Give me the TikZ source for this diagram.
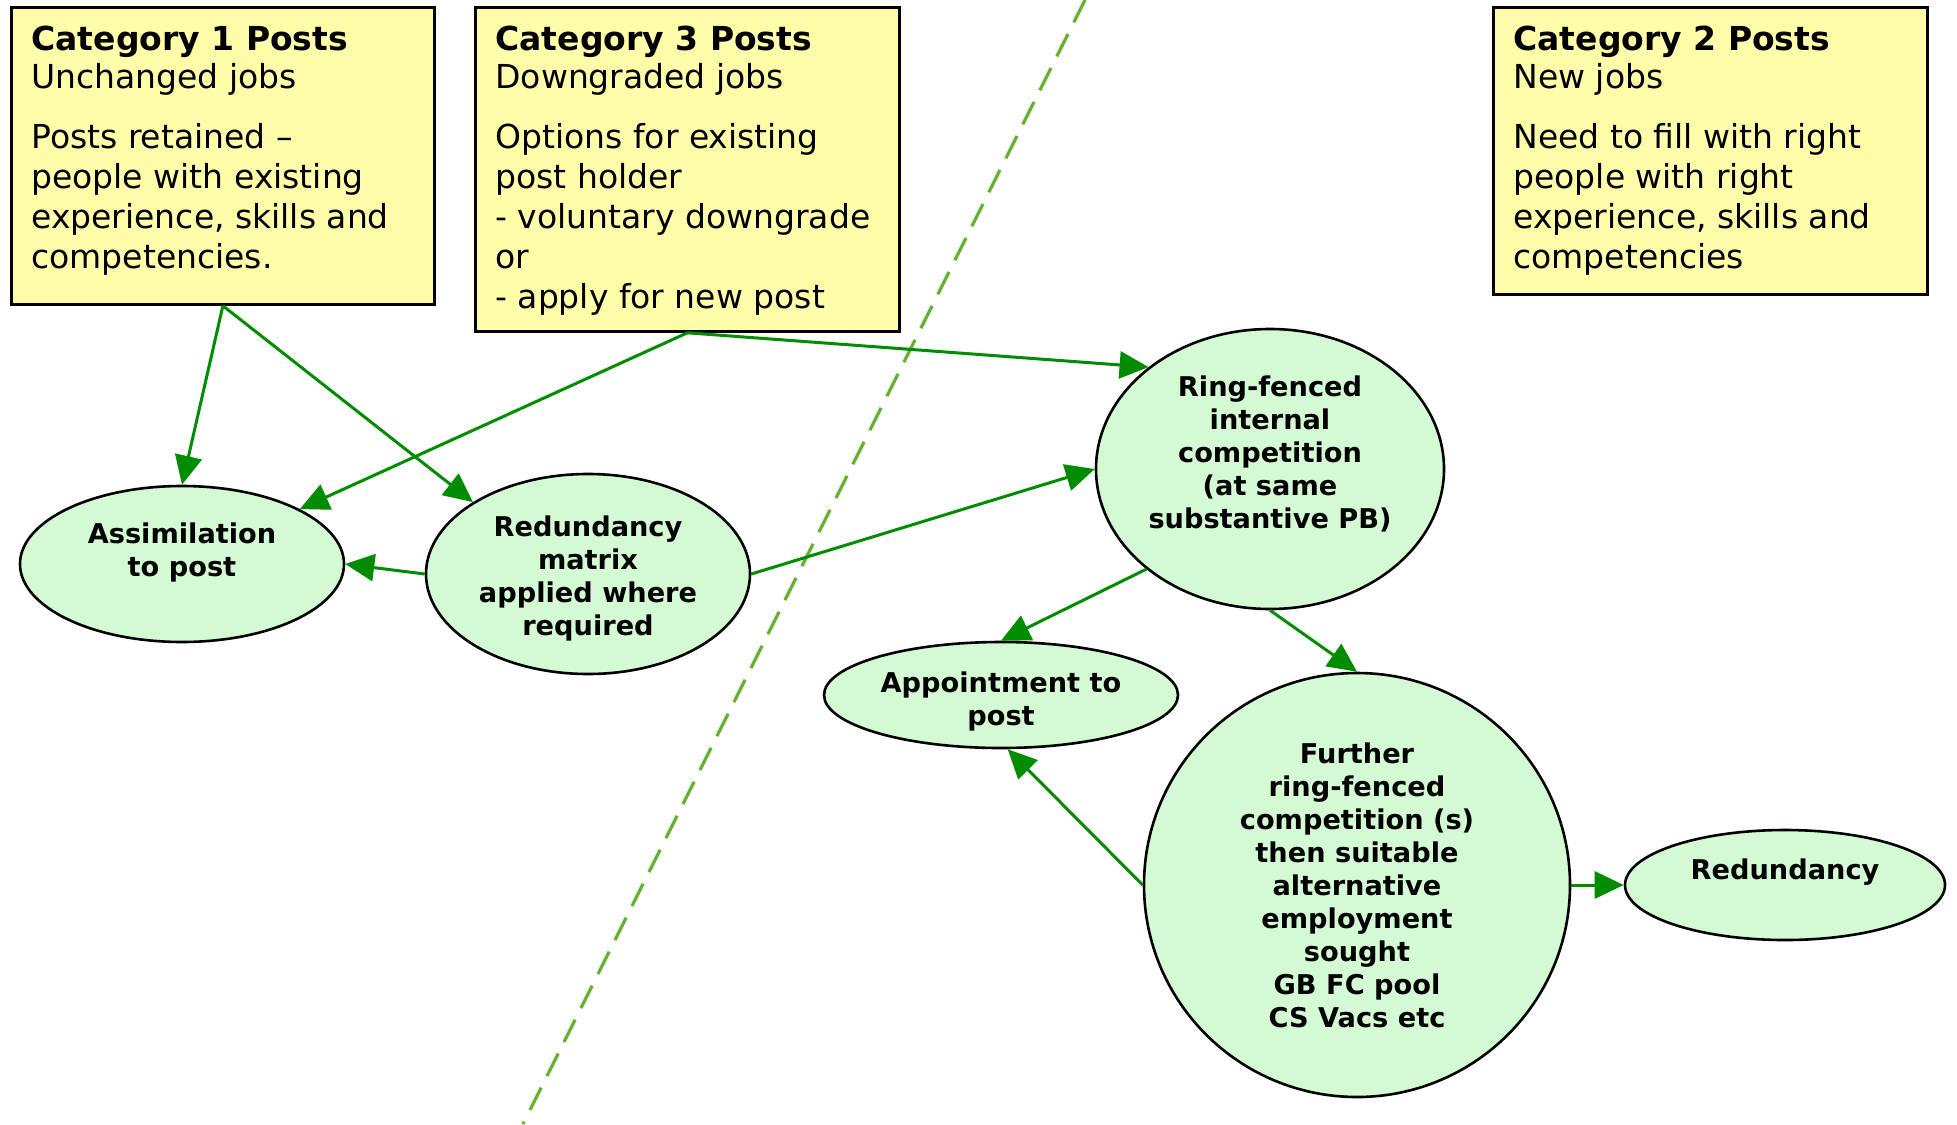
\documentclass[tikz,border=0pt]{standalone}
\usepackage{fontspec}
\setmainfont{DejaVu Sans}
\usetikzlibrary{shapes.geometric,arrows.meta}

\definecolor{postfill}{RGB}{255,252,170}
\definecolor{stagefill}{RGB}{212,250,212}
\definecolor{flow}{RGB}{0,140,0}
\definecolor{divide}{RGB}{102,176,50}

\tikzset{
  post/.style={draw=black, line width=1.4pt, fill=postfill, rectangle,
    inner sep=0pt, anchor=north west},
  posttext/.style={anchor=north west, align=left, inner sep=0pt,
    font=\fontsize{16.5}{20}\selectfont},
  stage/.style={draw=black, line width=1.3pt, fill=stagefill, ellipse,
    inner sep=0pt},
  stagetext/.style={align=center, inner sep=0pt,
    font=\fontsize{13.6}{16.5}\selectfont\bfseries},
  flowarrow/.style={draw=flow, line width=1.5pt,
    -{Triangle[length=14.5pt,width=13.5pt]}},
  divider/.style={draw=divide, line width=1.6pt, dash pattern=on 12.5pt off 6.5pt}
}

\begin{document}
\begin{tikzpicture}[x=0.5pt,y=-0.5pt]
  \useasboundingbox (0,0) rectangle (1957,1124);
  \fill[white] (0,0) rectangle (1957,1124);

  % dividing line between existing and new posts
  \coordinate (dtop) at (1085,0);
  \coordinate (dbot) at (523,1124);
  \draw[divider] (dtop) -- (dbot);

  % category boxes
  \node[post, minimum width=211.5pt, minimum height=148.5pt] (cat1) at (10,6) {};
  \node[posttext] (cat1t) at (31,26) {\textbf{Category 1 Posts}\\[-1.3pt]
    Unchanged jobs\\[10pt]
    Posts retained –\\
    people with existing\\
    experience, skills and\\
    competencies.};

  \node[post, minimum width=212pt, minimum height=162pt] (cat3) at (474,6) {};
  \node[posttext] (cat3t) at (495,26) {\textbf{Category 3 Posts}\\[-1.3pt]
    Downgraded jobs\\[10pt]
    Options for existing\\
    post holder\\
    - voluntary downgrade\\
    or\\
    - apply for new post};

  \node[post, minimum width=217pt, minimum height=143.5pt] (cat2) at (1492,6) {};
  \node[posttext] (cat2t) at (1513,26) {\textbf{Category 2 Posts}\\[-1.3pt]
    New jobs\\[10pt]
    Need to fill with right\\
    people with right\\
    experience, skills and\\
    competencies};

  % process stages
  \node[stage, minimum width=162pt, minimum height=78pt] (assim) at (182,564) {};
  \node[stagetext] (assimt) at (182,552) {Assimilation\\to post};

  \node[stage, minimum width=162pt, minimum height=100pt] (rmat) at (588,574) {};
  \node[stagetext] (rmatt) at (588,578) {Redundancy\\matrix\\applied where\\required};

  \node[stage, minimum width=174pt, minimum height=140pt] (ring) at (1270,469) {};
  \node[stagetext] (ringt) at (1270,454) {Ring-fenced\\internal\\competition\\(at same\\substantive PB)};

  \node[stage, minimum width=177pt, minimum height=53pt] (appt) at (1001,695) {};
  \node[stagetext] (apptt) at (1001,701) {Appointment to\\post};

  \node[stage, minimum width=213pt, minimum height=212pt] (further) at (1357,885) {};
  \node[stagetext] (furthert) at (1357,885) {Further\\ring-fenced\\competition (s)\\then suitable\\alternative\\employment\\sought\\GB FC pool\\CS Vacs etc};

  \node[stage, minimum width=160pt, minimum height=55pt] (redund) at (1785,885) {};
  \node[stagetext] (redundt) at (1785,872) {Redundancy};

  % flows
  \draw[flowarrow] (cat1.south) -- (assim.north);
  \draw[flowarrow] (cat1.south) -- (rmat.148);
  \draw[flowarrow] (cat3.south) -- (assim.25);
  \draw[flowarrow] (cat3.south) -- (ring.140);
  \draw[flowarrow] (rmat.west) -- (assim.east);
  \draw[flowarrow] (rmat.east) -- (ring.west);
  \draw[flowarrow] (ring.219) -- (appt.north);
  \draw[flowarrow] (ring.south) -- (further.north);
  \draw[flowarrow] (further.west) -- (appt.277);
  \draw[flowarrow] (further.east) -- (redund.west);
\end{tikzpicture}
\end{document}
